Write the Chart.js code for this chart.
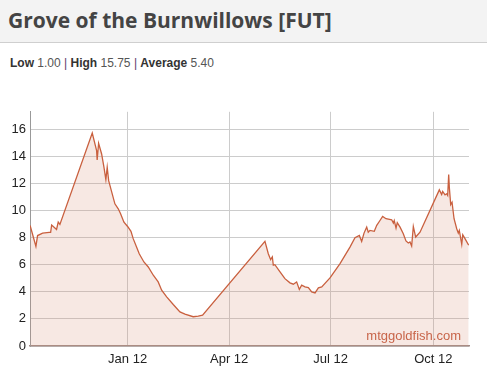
<!DOCTYPE html>
<html>
<head>
<meta charset="utf-8">
<script src="https://cdn.jsdelivr.net/npm/chart.js@4"></script>
<style>
  html, body { margin: 0; padding: 0; background: #fff; width: 487px; height: 370px; overflow: hidden; }
  .header {
    height: 43px; background: #f3f3f3; border-bottom: 1px solid #cfcfcf;
    font-family: "Open Sans", Lato, sans-serif; font-weight: bold; font-size: 21px;
    color: #444; line-height: 40px; padding-left: 8px; box-sizing: border-box;
  }
  .stats {
    position: absolute; top: 56px; left: 10px;
    font-family: "Liberation Sans", Arial, sans-serif; font-size: 12px; color: #555;
  }
  .stats b { color: #333; }
  .stats i { font-style: normal; color: #5b3a6e; }
  #wrap { position: absolute; left: 0; top: 100px; width: 487px; height: 270px; }
</style>
</head>
<body>
<div class="header">Grove of the Burnwillows [FUT]</div>
<div class="stats"><b>Low</b> 1.00 <i>|</i> <b>High</b> 15.75 <i>|</i> <b>Average</b> 5.40</div>
<div id="wrap"><canvas id="priceChart"></canvas></div>
<script>
// day offsets counted from 1 Oct 2011
const dayOffsets = [
  4.6, 9.8, 11.3, 15.8, 21.7, 23, 23.9, 28.3, 29.8, 31.3,
  60.3, 64.2, 64.7, 66, 68.7, 70.7, 72.5, 73.7, 75, 80.6,
  83.6, 85.7, 88.7, 92, 95, 97, 100, 102.4, 106.6, 110.5,
  115, 119.4, 122.5, 127, 132.9, 138.9, 143.4, 150.8, 155.3, 159.2,
  215.1, 218.1, 220.2, 221.7, 222.6, 224, 228.6, 233, 237.5, 240.5,
  243.5, 245.9, 248, 251, 254, 257, 260, 263, 266, 273.4,
  282.4, 291.3, 295.8, 299.7, 301.8, 303.9, 306.3, 307.7, 309.2, 313.1,
  315.3, 318.2, 320.6, 323.6, 328.7, 330.2, 331, 332.6, 333.7, 336.2,
  339.1, 341.5, 343.6, 345.1, 346.6, 348.1, 350.2, 354.1, 371.4, 373.5,
  374.4, 376.5, 378, 378.9, 379.8, 380.4, 381.6, 382.8, 384.6, 387,
  388.4, 389.3, 391.5, 392.4, 394.4, 397.7
];
const prices = [
  8.9, 7.35, 8.15, 8.33, 8.38, 8.38, 8.92, 8.6, 9.14, 8.97,
  15.71, 14.41, 13.73, 14.95, 14.17, 13.24, 12.28, 13.19, 12.2, 10.49,
  10.12, 9.76, 9.14, 8.82, 8.46, 7.92, 7.3, 6.81, 6.2, 5.83,
  5.22, 4.73, 4.12, 3.63, 3.06, 2.52, 2.35, 2.16, 2.2, 2.28,
  7.72, 6.81, 6.37, 6.57, 5.96, 6.0, 5.47, 4.97, 4.66, 4.56,
  4.73, 4.17, 4.49, 4.36, 4.31, 3.99, 3.92, 4.29, 4.36, 5.02,
  6.08, 7.3, 7.99, 8.16, 7.72, 8.33, 8.77, 8.4, 8.53, 8.46,
  8.9, 9.26, 9.56, 9.39, 9.31, 9.07, 9.26, 8.7, 9.1, 8.77,
  8.28, 7.75, 7.6, 7.67, 7.38, 8.82, 8.04, 8.4, 11.52, 11.18,
  11.4, 11.15, 11.23, 11.1, 12.65, 11.67, 10.44, 10.61, 9.39, 8.65,
  8.33, 8.53, 7.5, 8.21, 7.92, 7.43
];
const xTickDays = [92, 183, 274, 366];
const xTickLabels = ['Jan 12', 'Apr 12', 'Jul 12', 'Oct 12'];
const yTicks = [0, 2, 4, 6, 8, 10, 12, 14, 16];

const points = dayOffsets.map((d, i) => ({ x: d, y: prices[i] }));

const watermark = {
  id: 'watermark',
  afterDatasetsDraw(chart) {
    const { ctx, chartArea } = chart;
    ctx.save();
    ctx.font = '13px "Liberation Sans", Arial, sans-serif';
    ctx.fillStyle = '#c8654a';
    ctx.textAlign = 'right';
    ctx.textBaseline = 'alphabetic';
    ctx.fillText('mtggoldfish.com', chartArea.right - 8, chartArea.bottom - 6);
    ctx.restore();
  }
};

new Chart(document.getElementById('priceChart'), {
  type: 'line',
  data: {
    datasets: [{
      data: points,
      borderColor: '#c9603f',
      borderWidth: 1.3,
      backgroundColor: 'rgba(214, 140, 115, 0.2)',
      fill: 'origin',
      tension: 0,
      pointRadius: 0
    }]
  },
  options: {
    responsive: true,
    maintainAspectRatio: false,
    animation: false,
    layout: { padding: { top: 11, right: 18, left: 0, bottom: 0 } },
    plugins: { legend: { display: false }, tooltip: { enabled: false } },
    scales: {
      x: {
        type: 'linear',
        min: 4.5,
        max: 398,
        afterBuildTicks: (s) => { s.ticks = xTickDays.map(v => ({ value: v })); },
        afterFit: (s) => { s.height = 24; },
        ticks: {
          callback: (v) => xTickLabels[xTickDays.indexOf(v)] || '',
          color: '#222',
          font: { family: '"Liberation Sans", Arial, sans-serif', size: 13 },
          padding: 6,
          maxRotation: 0
        },
        grid: { color: '#cccccc', drawTicks: false },
        border: { color: '#a08c88', width: 1.5 }
      },
      y: {
        min: 0,
        max: 17.28,
        afterBuildTicks: (s) => { s.ticks = yTicks.map(v => ({ value: v })); },
        afterFit: (s) => { s.width = 30; },
        ticks: {
          color: '#222',
          font: { family: '"Liberation Sans", Arial, sans-serif', size: 13 },
          padding: 4
        },
        grid: { color: '#cccccc', drawTicks: false },
        border: { color: '#999', width: 1 }
      }
    }
  },
  plugins: [watermark]
});
</script>
</body>
</html>
